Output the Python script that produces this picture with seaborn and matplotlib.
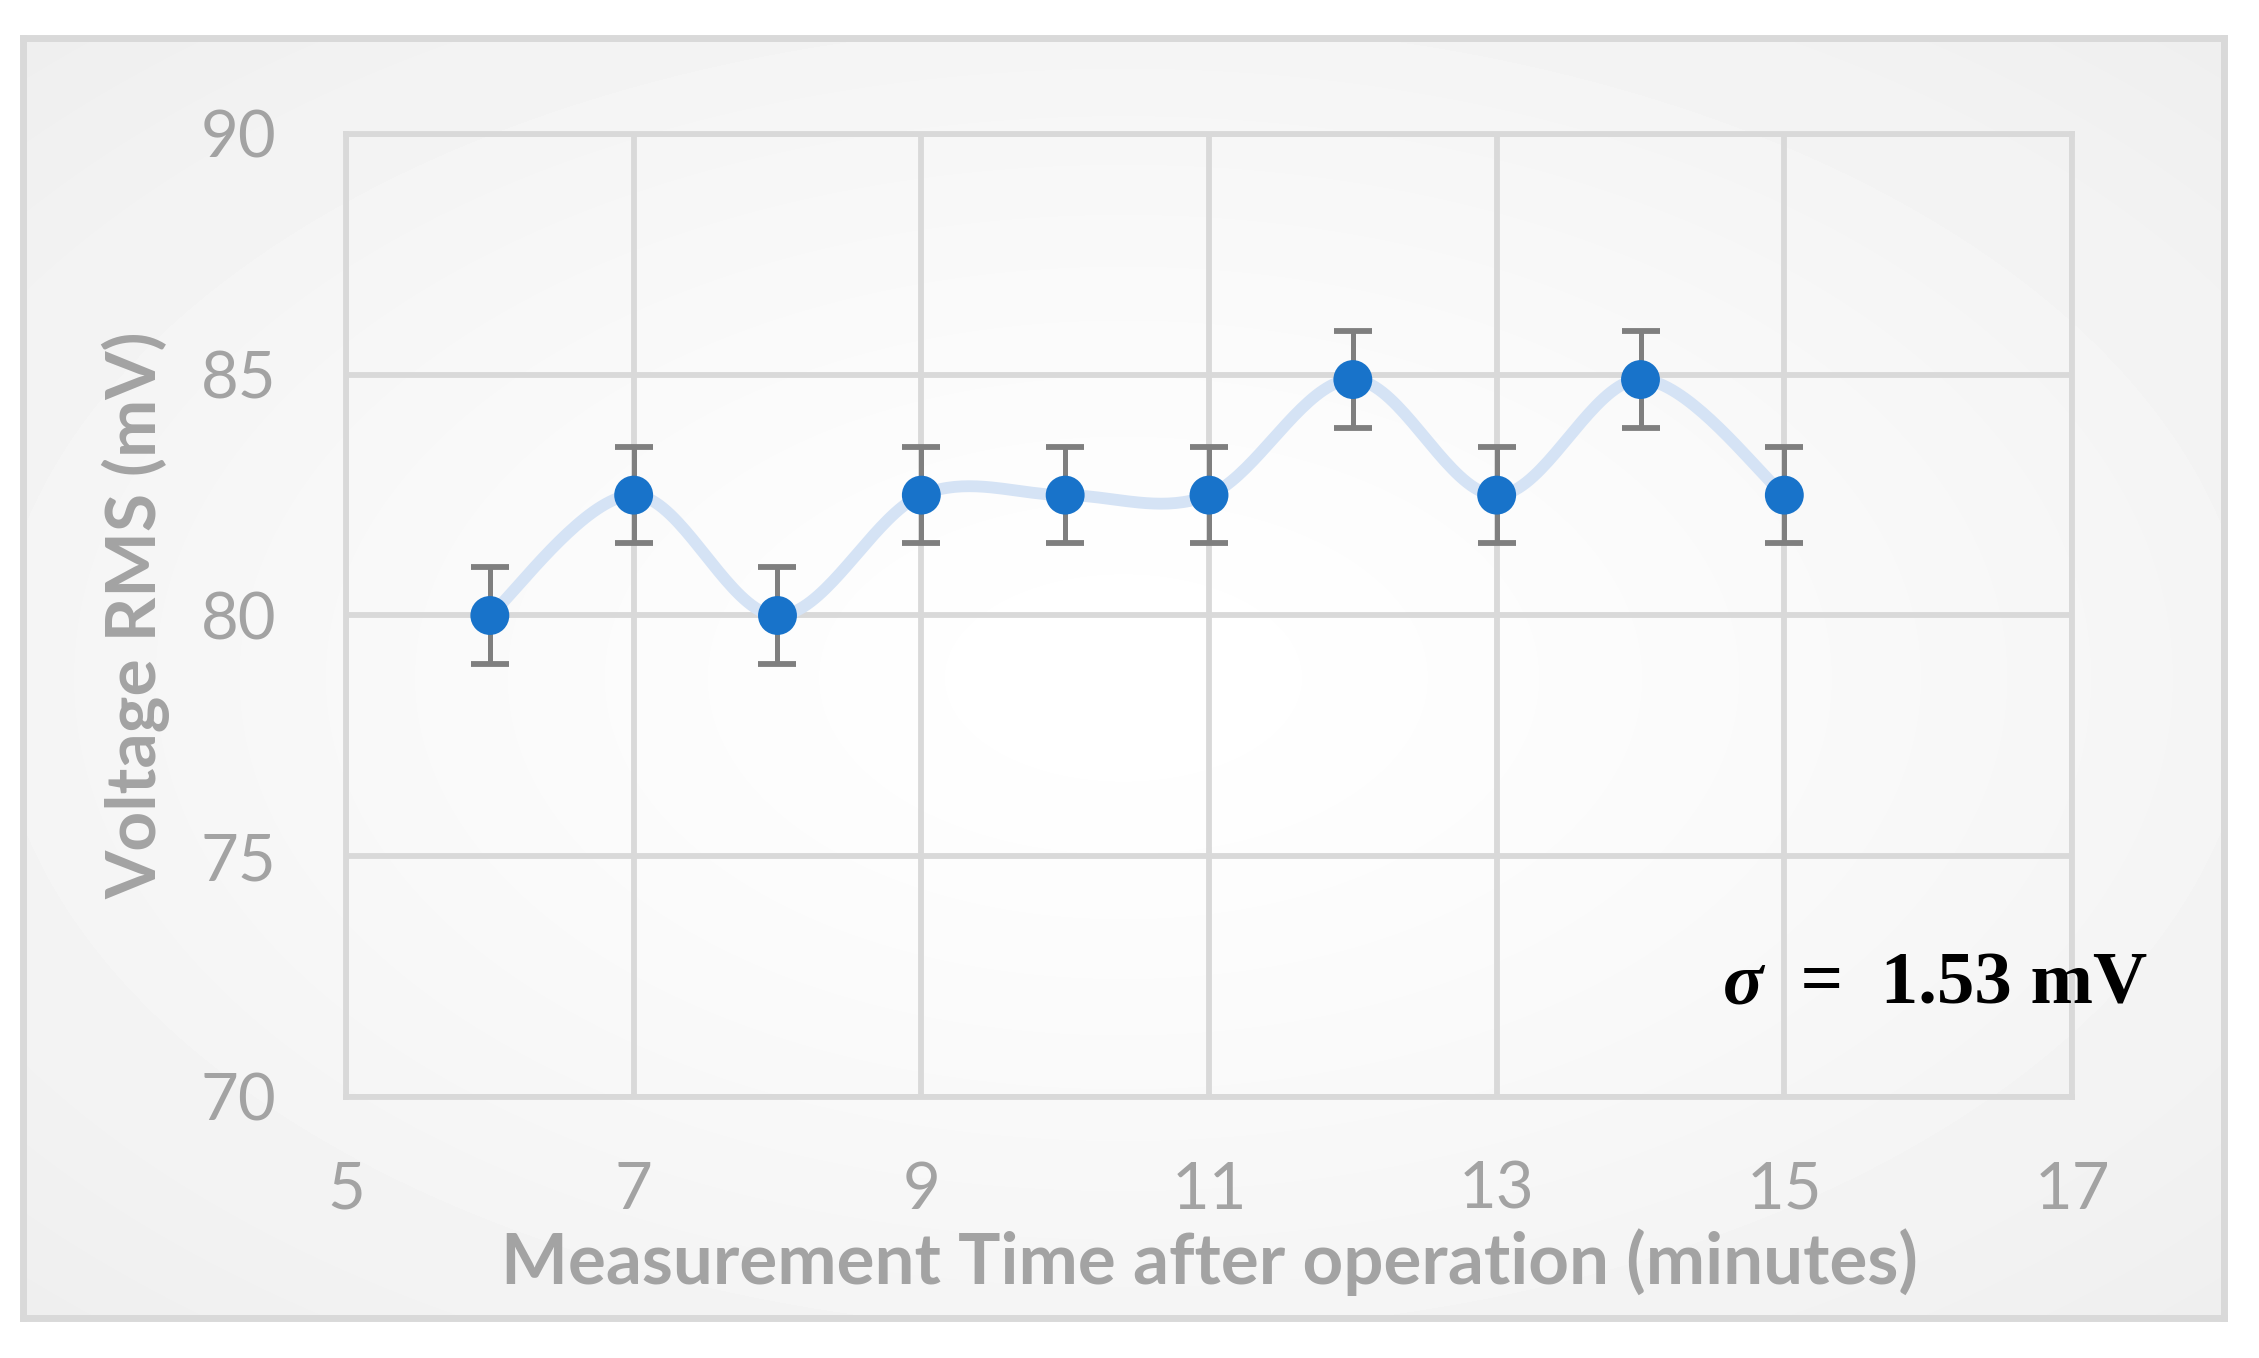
import matplotlib
matplotlib.use('Agg')
import matplotlib.pyplot as plt
import numpy as np
import pandas as pd
import seaborn as sns

# data
minutes = [6, 7, 8, 9, 10, 11, 12, 13, 14, 15]
voltage_rms = [80.0, 82.5, 80.0, 82.5, 82.5, 82.5, 84.9, 82.5, 84.9, 82.5]
voltage_err = [1, 1, 1, 1, 1, 1, 1, 1, 1, 1]
x_ticks = [5, 7, 9, 11, 13, 15, 17]
y_ticks = [70, 75, 80, 85, 90]
sigma_symbol = 'σ'
sigma_value = '  =  1.53 mV'


def smooth_curve(xs, ys, n=40):
    # Excel style smoothed line (Catmull-Rom as cubic Bezier)
    pts = np.column_stack([xs, ys]).astype(float)
    ext = np.vstack([pts[0], pts, pts[-1]])
    out = []
    t = np.linspace(0, 1, n)[:, None]
    for i in range(1, len(ext) - 2):
        p0, p1, p2, p3 = ext[i - 1], ext[i], ext[i + 1], ext[i + 2]
        c1 = p1 + (p2 - p0) / 6
        c2 = p2 - (p3 - p1) / 6
        seg = ((1 - t) ** 3) * p1 + 3 * ((1 - t) ** 2) * t * c1 + 3 * (1 - t) * t ** 2 * c2 + t ** 3 * p2
        out.append(seg if i == 1 else seg[1:])
    return np.vstack(out)


sns.set_theme(style='white')
plt.rcParams['font.family'] = ['Lato', 'DejaVu Sans']

label_gray = '#a3a3a3'
grid_gray = '#d9d9d9'

fig = plt.figure(figsize=(22.59, 13.58), dpi=100)
fig.patch.set_facecolor('white')

# chart area with soft radial gradient and grey frame
bg = fig.add_axes([23 / 2259, 1 - 1318 / 1358, (2224 - 23) / 2259, (1318 - 38) / 1358])
gx, gy = np.meshgrid(np.linspace(-1, 1, 400), np.linspace(-1, 1, 240))
r = np.sqrt(gx ** 2 + gy ** 2) / np.sqrt(2)
bg.imshow(1 - 0.065 * r ** 1.3, cmap='gray', vmin=0, vmax=1, aspect='auto',
          extent=[0, 1, 0, 1], interpolation='bilinear')
bg.set_xticks([])
bg.set_yticks([])
for s in bg.spines.values():
    s.set_color(grid_gray)
    s.set_linewidth(5)

ax = fig.add_axes([346 / 2259, 1 - 1097 / 1358, (2072 - 346) / 2259, (1097 - 134) / 1358])
ax.set_facecolor('none')

df = pd.DataFrame({'minutes': minutes, 'voltage': voltage_rms, 'err': voltage_err})
curve = smooth_curve(df['minutes'], df['voltage'])
sns.lineplot(x=curve[:, 0], y=curve[:, 1], sort=False, ax=ax, color='#d5e3f5',
             linewidth=8.5, zorder=2)
ax.errorbar(df['minutes'], df['voltage'], yerr=df['err'], fmt='none', ecolor='#7f7f7f',
            elinewidth=3.6, capsize=13.5, capthick=4.2, zorder=3)
sns.scatterplot(data=df, x='minutes', y='voltage', ax=ax, s=28 ** 2, color='#1873ca',
                edgecolor='none', linewidth=0, zorder=4)

ax.set_xlim(5, 17)
ax.set_ylim(70, 90)
ax.set_xticks(x_ticks)
ax.set_yticks(y_ticks)
ax.grid(True, color=grid_gray, linewidth=4.2)
ax.set_axisbelow(True)
for s in ax.spines.values():
    s.set_color(grid_gray)
    s.set_linewidth(4.2)
    s.set_zorder(1)
ax.tick_params(axis='both', length=0, labelsize=47, colors=label_gray)
ax.tick_params(axis='x', pad=46)
ax.tick_params(axis='y', pad=50)

ax.set_xlabel('Measurement Time after operation (minutes)', fontsize=51,
              fontweight='bold', color=label_gray)
ax.set_ylabel('Voltage RMS (mV)', fontsize=50, fontweight='bold', color=label_gray)
ax.xaxis.set_label_coords(0.5, -0.136)
ax.yaxis.set_label_coords(-0.102, 0.5)

serif = ['Liberation Serif', 'DejaVu Serif']
value_txt = fig.text(2147 / 2259, 1 - 985 / 1358, sigma_value, ha='right', va='center',
                     fontsize=54, fontweight='bold', family=serif, color='black')
ax.annotate(sigma_symbol, xy=(0, 0.5), xycoords=value_txt, ha='right', va='center',
            fontsize=54, fontweight='bold', fontstyle='italic', family=serif,
            color='black', annotation_clip=False)

fig.savefig('out.png', dpi=100)
